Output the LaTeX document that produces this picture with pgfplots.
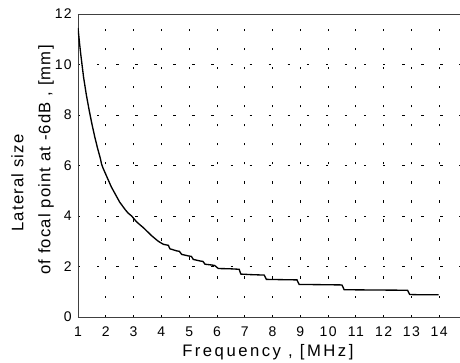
\documentclass[border=0pt]{standalone}
\usepackage{fontspec}
\setmainfont{Liberation Sans}
\newfontfamily\labfont[LetterSpace=7]{Liberation Sans}
\newfontfamily\labxfont[LetterSpace=15]{Liberation Sans}
\newfontfamily\tckfont[LetterSpace=10]{Liberation Sans}
\usepackage{pgfplots}
\pgfplotsset{compat=1.18}
\begin{document}
\begin{tikzpicture}
\begin{axis}[
  scale only axis, width=291.75pt, height=227.25pt,
  xmin=1, xmax=15, ymin=0, ymax=12,
  xtick={1,...,14}, ytick={0,2,...,12},
  grid=major,
  grid style={black, line width=0.6pt, dash pattern=on 1.8pt off 12.5pt},
  axis line style={black!75, line width=0.6pt},
  major tick length=0pt,
  /pgf/number format/assume math mode=true,
  tick label style={font=\fontsize{10.5}{12}\tckfont, inner sep=0pt},
  xticklabel style={anchor=center, yshift=-11.25pt},
  yticklabel style={anchor=east, xshift=-4.5pt},
  xlabel={Frequency , [MHz]},
  xlabel style={font=\fontsize{12.5}{14}\labxfont, at={(axis description cs:0.488,0)}, anchor=center, yshift=-26.25pt},
  ylabel={Lateral size\hspace*{34.5pt}\\[1.5pt]of focal point at -6dB , [mm]},
  ylabel style={font=\fontsize{12.5}{18.75}\selectfont\labfont, align=center, at={(axis description cs:-0.1169,0.518)}, anchor=center},
  clip=true,
]
\addplot[black, line width=1pt] coordinates {
(1.00,11.45) (1.05,10.9) (1.10,10.4) (1.15,9.95) (1.20,9.5) (1.30,8.8)
(1.40,8.2) (1.50,7.65) (1.60,7.15) (1.70,6.7) (1.80,6.3) (1.85,6.05)
(1.90,5.9) (2.00,5.65) (2.10,5.4) (2.20,5.15) (2.30,4.95) (2.40,4.75)
(2.50,4.55) (2.60,4.4) (2.70,4.25) (2.80,4.12) (2.93,4.0) (3.10,3.78)
(3.20,3.68) (3.35,3.54) (3.50,3.38) (3.65,3.22) (3.80,3.08) (3.89,3.0)
(4.07,2.88) (4.25,2.84) (4.31,2.70) (4.55,2.62) (4.65,2.60) (4.73,2.48)
(4.97,2.42) (5.08,2.40) (5.15,2.28) (5.39,2.22) (5.50,2.20) (5.57,2.09)
(5.81,2.06) (5.92,2.04) (6.05,1.92) (6.47,1.91) (6.80,1.89)
(6.86,1.70) (7.20,1.68) (7.70,1.66)
(7.78,1.49) (8.30,1.48) (8.88,1.47)
(8.96,1.29) (9.80,1.28) (10.50,1.27)
(10.58,1.08) (11.60,1.07) (12.86,1.06)
(12.94,0.89) (13.40,0.88) (13.98,0.88)
};
\end{axis}
\pgfresetboundingbox
\useasboundingbox (-58.5pt,-33.75pt) rectangle (286.5pt,237.75pt);
\end{tikzpicture}
\end{document}
